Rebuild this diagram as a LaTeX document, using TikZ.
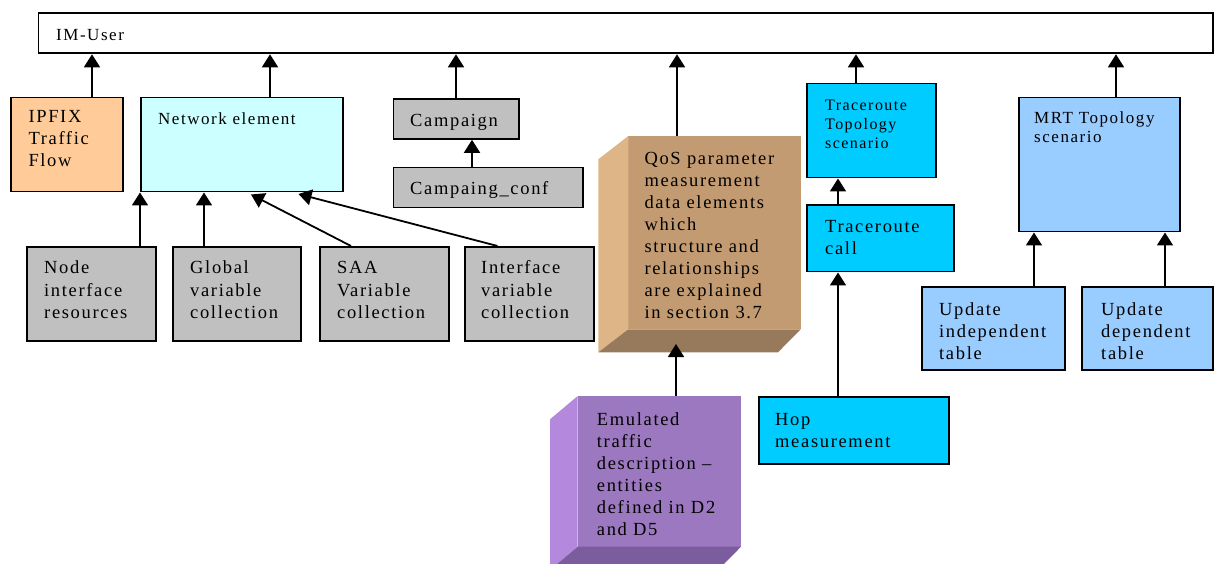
\documentclass[tikz,border=0pt]{standalone}
\usepackage{fontspec}
\setmainfont{Liberation Serif}[LetterSpace=9]
\usetikzlibrary{arrows.meta}
\definecolor{cOrange}{HTML}{FFCC99}
\definecolor{cCyanL}{HTML}{CCFFFF}
\definecolor{cGray}{HTML}{C0C0C0}
\definecolor{cTrace}{HTML}{00CCFF}
\definecolor{cMrt}{HTML}{99CCFF}
\definecolor{cQosF}{HTML}{C39B72}
\definecolor{cQosL}{HTML}{DEB587}
\definecolor{cQosB}{HTML}{967A5B}
\definecolor{cEmuF}{HTML}{9C78C0}
\definecolor{cEmuL}{HTML}{B388DD}
\definecolor{cEmuB}{HTML}{7B5C9C}
\newcommand\FontL{\fontsize{18.5}{22}\selectfont}
\newcommand\FontS{\fontsize{17}{19.5}\selectfont}
\newcommand\FontT{\fontsize{16}{19}\selectfont}
\newcommand\vlines[1]{\vtop{\def\\{\egroup\hbox\bgroup}\hbox\bgroup#1\egroup}}
\begin{document}
\begin{tikzpicture}[x=1pt,y=-1pt,
  bx/.style={draw=black, line width=1.8pt, rectangle, inner sep=0pt, anchor=north west},
  face/.style={rectangle, inner sep=0pt, outer sep=0pt, anchor=north west},
  arr/.style={line width=1.8pt, -{Triangle[width=16pt,length=13pt]}},
  tx/.style={anchor=base west, inner sep=0pt, font=\FontL},
  txs/.style={tx, font=\FontS},
  txt/.style={tx, font=\FontT}]
\useasboundingbox (0,0) rectangle (1216,564);

% boxes
\node[bx, fill=white, minimum width=1174.5pt, minimum height=40pt] (imuser) at (37.5,12.5) {};
\node[bx, fill=cOrange, minimum width=112pt, minimum height=94pt] (ipfix) at (10,96.7) {};
\node[bx, fill=cCyanL, minimum width=202pt, minimum height=94pt] (ne) at (140,96.7) {};
\node[bx, fill=cGray, minimum width=125.5pt, minimum height=40pt] (camp) at (392.5,98) {};
\node[bx, fill=cGray, minimum width=189.5pt, minimum height=40pt] (conf) at (392.5,166.7) {};
\node[bx, fill=cGray, minimum width=129pt, minimum height=94pt] (nir) at (26,246) {};
\node[bx, fill=cGray, minimum width=128pt, minimum height=94pt] (gvc) at (172,246) {};
\node[bx, fill=cGray, minimum width=129pt, minimum height=94pt] (saa) at (319,246) {};
\node[bx, fill=cGray, minimum width=129pt, minimum height=94pt] (ivc) at (464,246) {};
\node[bx, fill=cTrace, minimum width=129pt, minimum height=94pt] (trt) at (806,82.7) {};
\node[bx, fill=cTrace, minimum width=146.7pt, minimum height=66.7pt] (trc) at (806,204) {};
\node[bx, fill=cTrace, minimum width=190pt, minimum height=66.7pt] (hop) at (758,396) {};
\node[bx, fill=cMrt, minimum width=161pt, minimum height=134pt] (mrt) at (1018,96.7) {};
\node[bx, fill=cMrt, minimum width=143.3pt, minimum height=83pt] (upi) at (920.7,286) {};
\node[bx, fill=cMrt, minimum width=131pt, minimum height=83pt] (upd) at (1081,286) {};

% 3D blocks
\node[face, fill=cQosF, minimum width=172.4pt, minimum height=193.3pt] (qos) at (628.3,136) {};
\fill[cQosL] ([shift={(-30,23.3)}]qos.north west) -- (qos.north west) -- (qos.south west) -- ([shift={(-30,23)}]qos.south west) -- cycle;
\fill[cQosB] (qos.south west) -- (qos.south east) -- ([shift={(-22.7,23)}]qos.south east) -- ([shift={(-30,23)}]qos.south west) -- cycle;
\node[face, fill=cEmuF, minimum width=163.3pt, minimum height=150.7pt] (emu) at (577.7,396) {};
\fill[cEmuL] ([shift={(-27.7,23.3)}]emu.north west) -- (emu.north west) -- (emu.south west) -- ([shift={(-27.7,23.3)}]emu.south west) -- cycle;
\fill[cEmuB] (emu.south west) -- (emu.south east) -- ([shift={(-23,23.3)}]emu.south east) -- ([shift={(-27.7,23.3)}]emu.south west) -- cycle;

% texts
\node[txs] (t-imuser) at (56,41) {IM-User};
\node[tx] (t-ipfix) at (28.3,122.7) {\vlines{IPFIX\\Traffic\\Flow}};
\node[txs] (t-ne) at (158,125) {Network element};
\node[tx] (t-camp) at (410,126.7) {Campaign};
\node[tx] (t-conf) at (410,195) {Campaing\_conf};
\node[tx] (t-nir) at (44,274) {\vlines{Node\\interface\\resources}};
\node[tx] (t-gvc) at (190,274) {\vlines{Global\\variable\\collection}};
\node[tx] (t-saa) at (337,274) {\vlines{SAA\\Variable\\collection}};
\node[tx] (t-ivc) at (481,274) {\vlines{Interface\\variable\\collection}};
\node[tx] (t-qos) at (644.3,165) {\vlines{QoS parameter\\measurement\\data elements\\which\\structure and\\relationships\\are explained\\in section 3.7}};
\node[tx] (t-emu) at (596.7,425) {\vlines{Emulated\\traffic\\description –\\entities\\defined in D2\\and D5}};
\node[txt] (t-trt) at (825,110.7) {\vlines{Traceroute\\Topology\\scenario}};
\node[tx] (t-trc) at (825,233) {\vlines{Traceroute\\call}};
\node[tx] (t-hop) at (775,425) {\vlines{Hop\\measurement}};
\node[txs] (t-mrt) at (1034,123.3) {\vlines{MRT Topology\\scenario}};
\node[tx] (t-upi) at (939,315) {\vlines{Update\\independent\\table}};
\node[tx] (t-upd) at (1101,315) {\vlines{Update\\dependent\\table}};

% x positions of connectors
\coordinate (a1) at (92,0);
\coordinate (a2) at (270,0);
\coordinate (a3) at (456,0);
\coordinate (a4) at (677,0);
\coordinate (a5) at (856,0);
\coordinate (a6) at (1116,0);
\coordinate (a7) at (472,0);
\coordinate (a8) at (140,0);
\coordinate (a9) at (204,0);
\coordinate (a10) at (351,0);
\coordinate (a10e) at (251,0);
\coordinate (a11) at (497.5,0);
\coordinate (a11e) at (298.5,0);
\coordinate (a12) at (838,0);
\coordinate (a15) at (1034,0);
\coordinate (a16) at (1165,0);
\coordinate (qtip) at (676,344);

% connectors
\draw[arr] (ipfix.north -| a1) -- (imuser.south -| a1);
\draw[arr] (ne.north -| a2) -- (imuser.south -| a2);
\draw[arr] (camp.north -| a3) -- (imuser.south -| a3);
\draw[arr] (qos.north -| a4) -- (imuser.south -| a4);
\draw[arr] (trt.north -| a5) -- (imuser.south -| a5);
\draw[arr] (mrt.north -| a6) -- (imuser.south -| a6);
\draw[arr] (conf.north -| a7) -- (camp.south -| a7);
\draw[arr] (nir.north -| a8) -- (ne.south -| a8);
\draw[arr] (gvc.north -| a9) -- (ne.south -| a9);
\draw[arr] (saa.north -| a10) -- ([yshift=-2pt]ne.south -| a10e);
\draw[arr] (ivc.north -| a11) -- ([yshift=-1.5pt]ne.south -| a11e);
\draw[arr] (trc.north -| a12) -- (trt.south -| a12);
\draw[arr] (hop.north -| a12) -- (trc.south -| a12);
\draw[arr] (emu.north -| qtip) -- (qtip);
\draw[arr] (upi.north -| a15) -- (mrt.south -| a15);
\draw[arr] (upd.north -| a16) -- (mrt.south -| a16);
\end{tikzpicture}
\end{document}
